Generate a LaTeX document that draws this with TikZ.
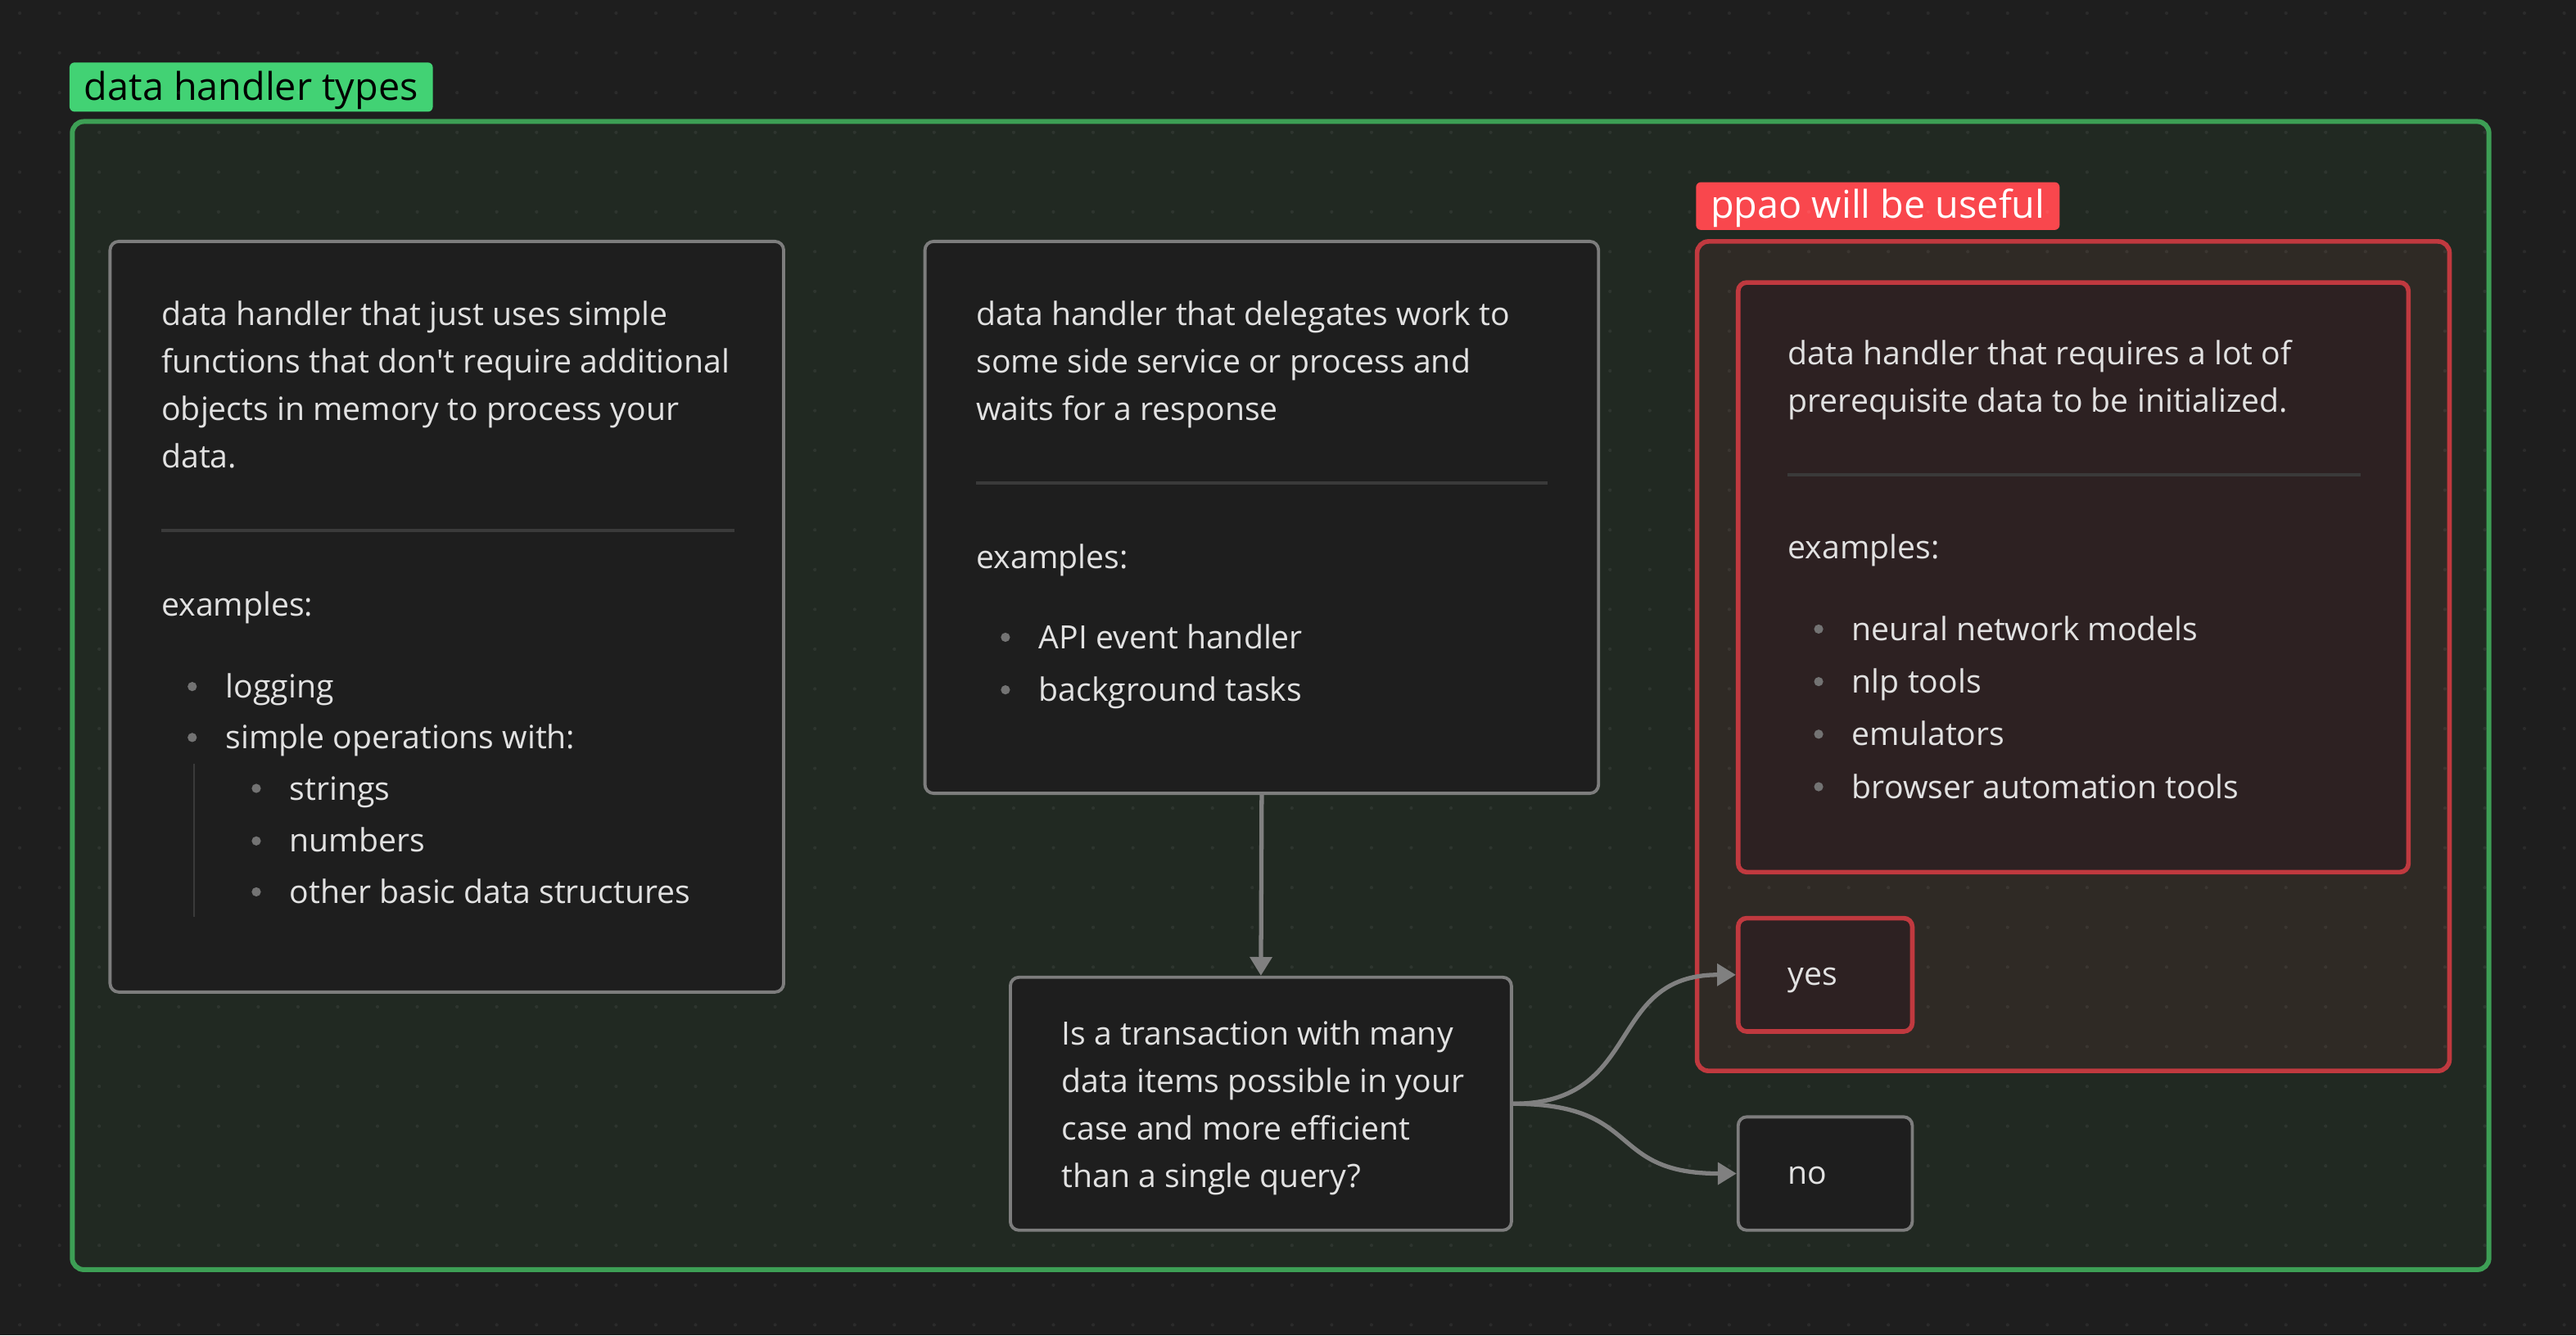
\documentclass[tikz,border=0pt]{standalone}
\usepackage{fontspec}
\setmainfont{Open Sans}[Ligatures=TeXOff]
\usetikzlibrary{arrows.meta,fit}

\definecolor{canvas}{HTML}{1E1E1E}
\definecolor{framefill}{HTML}{212922}
\definecolor{frameline}{HTML}{3D9F55}
\definecolor{tagbg}{HTML}{42D274}
\definecolor{cardfill}{HTML}{1E1E1E}
\definecolor{cardline}{HTML}{7D7D7D}
\definecolor{ink}{HTML}{E2E2E2}
\definecolor{sepline}{HTML}{3A3A3A}
\definecolor{dotc}{HTML}{737373}
\definecolor{linkc}{HTML}{808080}
\definecolor{groupfill}{HTML}{2F2A25}
\definecolor{redline}{HTML}{C0393F}
\definecolor{redtag}{HTML}{F9474D}
\definecolor{redfill}{HTML}{2D2122}

\tikzset{
  card/.style={draw=cardline, fill=cardfill, line width=1.1pt, rounded corners=3pt, inner sep=0pt},
  redcard/.style={card, draw=redline, fill=redfill, line width=1.6pt},
  txt/.style={text=ink, font=\fontsize{11.15}{13}\selectfont, inner sep=0pt, anchor=base west},
  tag/.style={font=\fontsize{13.3}{15}\selectfont, inner xsep=5.1pt, inner ysep=0pt,
    text depth=4pt, anchor=base west, rounded corners=1.7pt},
  sep/.style={draw=sepline, line width=1pt},
  link/.style={draw=linkc, line width=1.5pt, -{Triangle[length=6.5pt,width=7.5pt]}},
}

\begin{document}
\begin{tikzpicture}[x=0.020064cm, y=-0.020064cm]
  \fill[canvas] (0,0) rectangle (1568,813);

  % outer group
  \node[fit={(44,74) (1515,773)}, inner sep=0pt, draw=frameline, fill=framefill, line width=1.7pt, rounded corners=4pt] (types) {};
  \node[tag, fill=tagbg, text=black, text height=13.1pt] (typestag) at (42,61) {data handler types};

  % red group
  \node[fit={(1033,147) (1491,652)}, inner sep=0pt, draw=redline, fill=groupfill, line width=1.6pt, rounded corners=4pt] (ppao) {};
  \node[tag, fill=redtag, text=white, text height=12.6pt] (ppaotag) at (1032,133) {ppao will be useful};

  % dot grid
  \foreach \i in {0,...,64}
    \foreach \j in {0,...,33}
      \fill[white, opacity=0.06] ({12+\i*24.2},{8+\j*24.2}) circle (0.6pt);

  % simple handler
  \node[card, fit={(67,147) (477,604)}] (simple) {};
  \foreach \t [count=\i] in {{data handler that just uses simple},
      {functions that don\textquotesingle t require additional},
      {objects in memory to process your}, {data.}}
    \node[txt] (simple-l\i) at (98,{198+(\i-1)*29}) {\t};
  \draw[sep] (98,323) -- (447,323);
  \node[txt] (simple-ex) at (98,375) {examples:};
  \node[txt] (simple-b1) at (137,425) {logging};
  \node[txt] (simple-b2) at (137,456) {simple operations with:};
  \foreach \t [count=\i] in {strings, numbers, other basic data structures}
    \node[txt] (simple-s\i) at (176,{487+(\i-1)*31.5}) {\t};
  \foreach \y in {418,449} \fill[dotc] (117,\y) circle (1.6pt);
  \foreach \y in {480,512,543} \fill[dotc] (156,\y) circle (1.6pt);
  \draw[sepline, line width=0.6pt] (118,465) -- (118,558);

  % delegating handler
  \node[card, fit={(563,147) (973,483)}] (deleg) {};
  \foreach \t [count=\i] in {{data handler that delegates work to},
      {some side service or process and}, {waits for a response}}
    \node[txt] (deleg-l\i) at (594,{198+(\i-1)*29}) {\t};
  \draw[sep] (594,294) -- (942,294);
  \node[txt] (deleg-ex) at (594,346) {examples:};
  \node[txt] (deleg-b1) at (632,395) {API event handler};
  \node[txt] (deleg-b2) at (632,427) {background tasks};
  \foreach \y in {388,420} \fill[dotc] (612,\y) circle (1.6pt);

  % heavy handler
  \node[redcard, fit={(1058,172) (1466,531)}] (heavy) {};
  \foreach \t [count=\i] in {{data handler that requires a lot of},
      {prerequisite data to be initialized.}}
    \node[txt] (heavy-l\i) at (1088,{222+(\i-1)*29}) {\t};
  \draw[sep] (1088,289) -- (1437,289);
  \node[txt] (heavy-ex) at (1088,340) {examples:};
  \foreach \t [count=\i] in {neural network models, nlp tools, emulators, browser automation tools}
    \node[txt] (heavy-b\i) at (1127,{390+(\i-1)*32}) {\t};
  \foreach \y in {383,415,447,479} \fill[dotc] (1107,\y) circle (1.6pt);

  % question
  \node[card, fit={(615,595) (920,749)}] (txq) {};
  \foreach \t [count=\i] in {{Is a transaction with many},
      {data items possible in your}, {case and more efficient},
      {than a single query?}}
    \node[txt] (txq-l\i) at (646,{636+(\i-1)*29}) {\t};

  % answers
  \node[redcard, fit={(1058,559) (1164,628)}] (yes) {};
  \node[txt] (yes-t) at (1088,600) {yes};
  \node[card, fit={(1058,680) (1164,749)}] (no) {};
  \node[txt] (no-t) at (1088,721) {no};

  % connectors
  \draw[link] (deleg.south) -- (txq.north);
  \draw[link] (txq.east) .. controls +(80,0) and +(-80,0) .. (yes.west);
  \draw[link] (txq.east) .. controls +(80,0) and +(-80,0) .. (no.west);
\end{tikzpicture}
\end{document}
